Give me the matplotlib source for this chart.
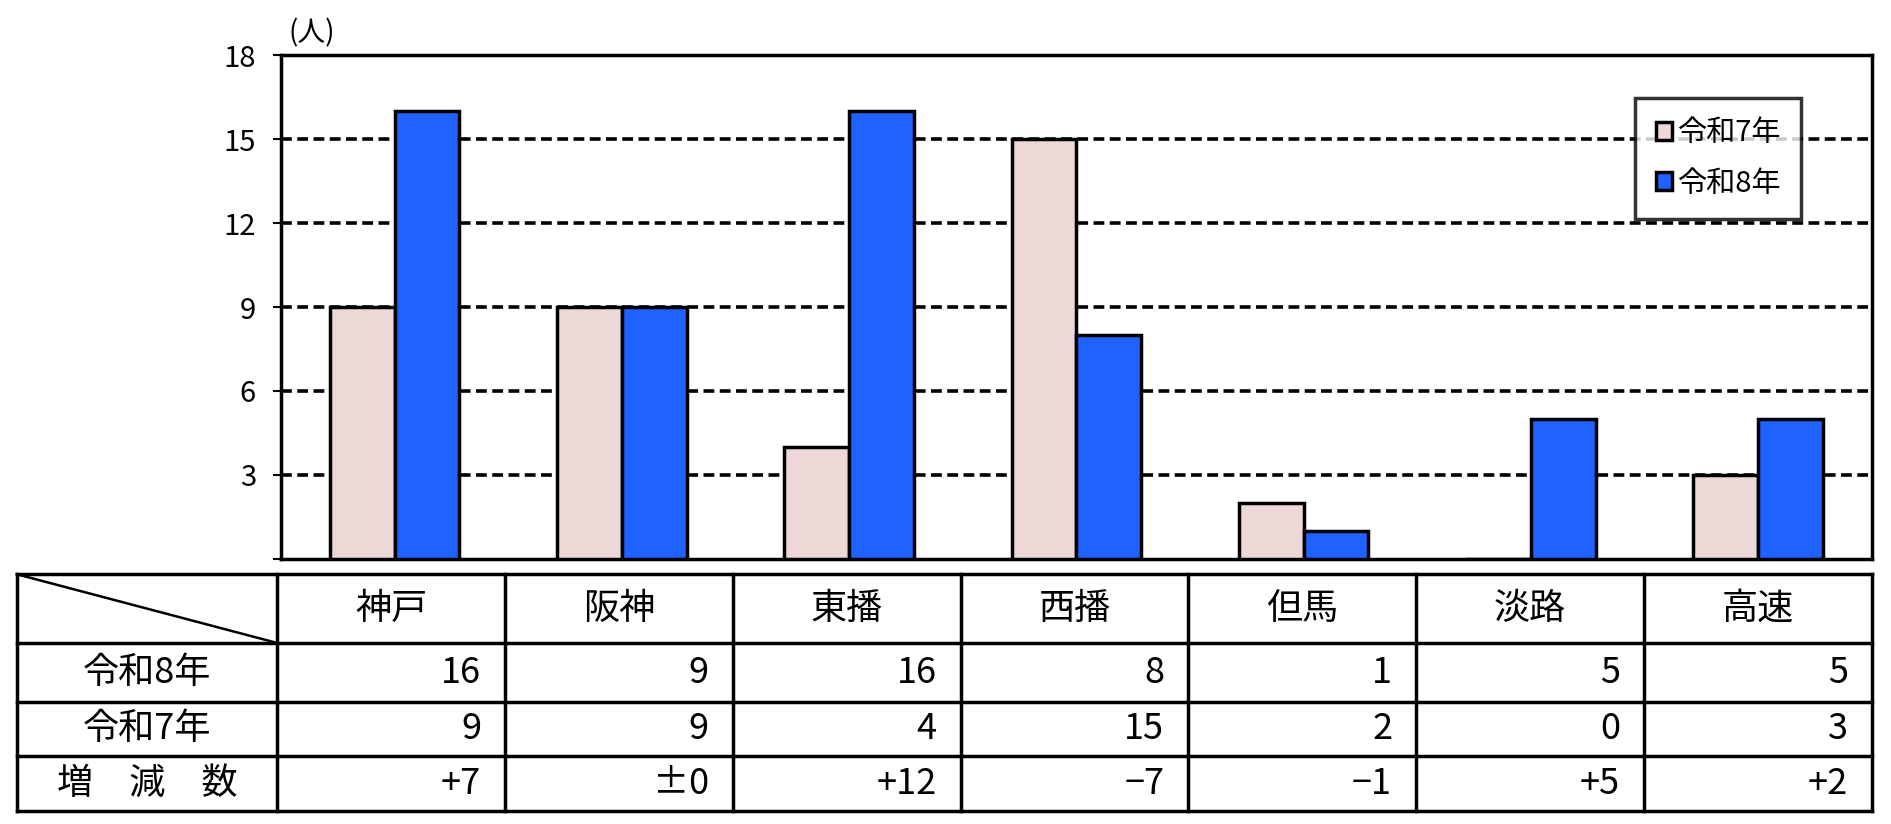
import matplotlib
matplotlib.use("Agg")
import matplotlib.pyplot as plt
import numpy as np

plt.rcParams['font.family'] = ['Noto Sans CJK JP', 'DejaVu Sans']

regions = ["神戸", "阪神", "東播", "西播", "但馬", "淡路", "高速"]
r7 = [9, 9, 4, 15, 2, 0, 3]
r8 = [16, 9, 16, 8, 1, 5, 5]
diff_labels = ["+7", "±0", "+12", "−7", "−1", "+5", "+2"]
yticks = [3, 6, 9, 12, 15, 18]

fig = plt.figure(figsize=(18.91, 8.24), dpi=100)
H = 683.0
W = 1568.0
ax = fig.add_axes([233 / W, 1 - 463 / H, (1552 - 233) / W, (463 - 46) / H])

x = np.arange(len(regions))
bw = 0.285
ax.bar(x - bw / 2, r7, bw, color="#ecd8d6", edgecolor="black", linewidth=2.5, label="令和7年", zorder=3)
ax.bar(x + bw / 2, r8, bw, color="#1f62ff", edgecolor="black", linewidth=2.5, label="令和8年", zorder=3)
ax.set_xlim(-0.5, len(regions) - 0.5)
ax.set_ylim(0, 18)
ax.set_yticks([0] + yticks)
ax.set_yticklabels([""] + [str(t) for t in yticks], fontsize=21)
ax.set_xticks([])
for t in yticks[:-1]:
    ax.axhline(t, color="black", linestyle=(0, (3, 1.5)), linewidth=2.6, zorder=1)
for s in ax.spines.values():
    s.set_linewidth(2.5)
ax.tick_params(axis="y", width=1.5, length=6, pad=12)
ax.text(0.005, 1.015, "(人)", transform=ax.transAxes, fontsize=20, ha="left", va="bottom")
leg = ax.legend(loc="upper right", bbox_to_anchor=(0.965, 0.945), fontsize=21, frameon=True,
                fancybox=False, edgecolor="black", handlelength=0.55, handleheight=0.55,
                handletextpad=0.2, borderpad=0.7, labelspacing=0.7)
leg.get_frame().set_linewidth(2.5)

# table
tab = fig.add_axes([0, 0, 1, 1], facecolor="none")
tab.set_xlim(0, W)
tab.set_ylim(H, 0)
tab.axis("off")
left, first, right = 14, 230, 1552
rows = [476, 533, 582, 627, 672]
cw = (right - first) / len(regions)
for y in rows:
    tab.plot([left, right], [y, y], color="black", lw=2.5)
tab.plot([left, left], [rows[0], rows[-1]], color="black", lw=2.5)
for i in range(len(regions) + 1):
    xx = first + i * cw
    tab.plot([xx, xx], [rows[0], rows[-1]], color="black", lw=2.5)
tab.plot([left, first], [rows[0], rows[1]], color="black", lw=1.8)
fs = 26
for i, name in enumerate(regions):
    tab.text(first + (i + 0.5) * cw, (rows[0] + rows[1]) / 2, name, fontsize=fs, ha="center", va="center")
row_labels = ["令和8年", "令和7年", "増　減　数"]
row_vals = [[str(v) for v in r8], [str(v) for v in r7], diff_labels]
for r in range(3):
    yc = (rows[r + 1] + rows[r + 2]) / 2
    tab.text((left + first) / 2, yc, row_labels[r], fontsize=fs, ha="center", va="center")
    for i, v in enumerate(row_vals[r]):
        tab.text(first + (i + 1) * cw - 20, yc, v, fontsize=fs, ha="right", va="center")

fig.savefig("out.png", dpi=100)
